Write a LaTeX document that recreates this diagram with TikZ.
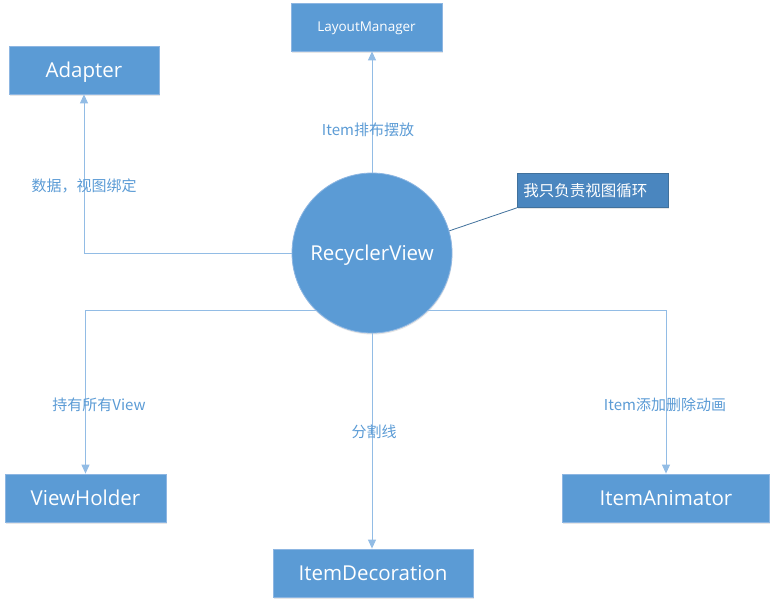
\documentclass[tikz,border=0pt]{standalone}
\usepackage{fontspec}
\setmainfont{Open Sans}
\newfontfamily\cjk{Noto Sans CJK SC}
\usetikzlibrary{arrows.meta,shadows}
\definecolor{boxblue}{HTML}{5B9BD5}
\definecolor{boxedge}{HTML}{8DB6E2}
\definecolor{linkblue}{HTML}{92BCE5}
\definecolor{noteblue}{HTML}{4A86BF}
\definecolor{noteedge}{HTML}{41719C}
\definecolor{textblue}{HTML}{5B9BD5}
\begin{document}
\begin{tikzpicture}[x=1pt, y=-1pt,
  box/.style={rectangle, fill=boxblue, draw=boxedge, line width=0.8pt, text=white,
    minimum height=48pt, inner sep=0pt, text height=14.6pt, text depth=0pt,
    font=\fontsize{20.5}{24}\selectfont,
    drop shadow={shadow xshift=0.5pt, shadow yshift=-1.5pt, opacity=0.2}},
  link/.style={draw=linkblue, line width=1pt, -{Triangle[length=9pt,width=8pt]}},
  lbl/.style={text=textblue, font=\cjk\fontsize{15}{18}\selectfont, inner sep=0pt}]
\useasboundingbox (0,0) rectangle (772,606);
% Center
    \node[circle, fill=boxblue, draw=boxedge, line width=0.8pt, minimum size=160pt, inner sep=0pt,
      text=white, text height=14.6pt, text depth=0pt, font=\fontsize{20.5}{24}\selectfont,
      drop shadow={shadow xshift=0.5pt, shadow yshift=-1.5pt, opacity=0.2}] (rv) at (372,253) {RecyclerView};
% Boxes
    \node[box, minimum width=151pt, text height=9.6pt, font=\fontsize{13.5}{16}\selectfont] (layout) at (366.5,27) {LayoutManager};
    \node[box, minimum width=150pt] (adapter) at (84,70) {Adapter};
    \node[box, minimum width=161pt] (holder) at (85.5,498) {ViewHolder};
    \node[box, minimum width=200pt] (deco) at (373,573) {ItemDecoration};
    \node[box, minimum width=207pt] (anim) at (666,498) {ItemAnimator};
    \node[anchor=north west, fill=noteblue, draw=noteedge, line width=0.8pt, text=white,
      minimum height=34pt, text width=139pt, align=left, inner xsep=6pt, inner ysep=0pt,
      font=\cjk\fontsize{15.5}{18}\selectfont,
      drop shadow={shadow xshift=0.5pt, shadow yshift=-1.5pt, opacity=0.2}] (note) at (517,173) {我只负责视图循环};
% Links
    \draw[link] (rv.west) -| (adapter.south);
    \draw[link] (rv.north) -- (rv.north |- layout.south);
    \draw[link] (rv.-134) -| (holder.north);
    \draw[link] (rv.south) -- (rv.south |- deco.north);
    \draw[link] (rv.-46) -| (anim.north);
    \draw[noteedge, line width=0.8pt] (rv.16) -- (note.south west);
% Labels
    \node[lbl] (lbind) at (84,186) {数据，视图绑定};
    \node[lbl] (lplace) at (368,130) {Item排布摆放};
    \node[lbl] (lhold) at (99,405) {持有所有View};
    \node[lbl] (ldeco) at (374,432) {分割线};
    \node[lbl] (lanim) at (665,405) {Item添加删除动画};
\end{tikzpicture}
\end{document}
